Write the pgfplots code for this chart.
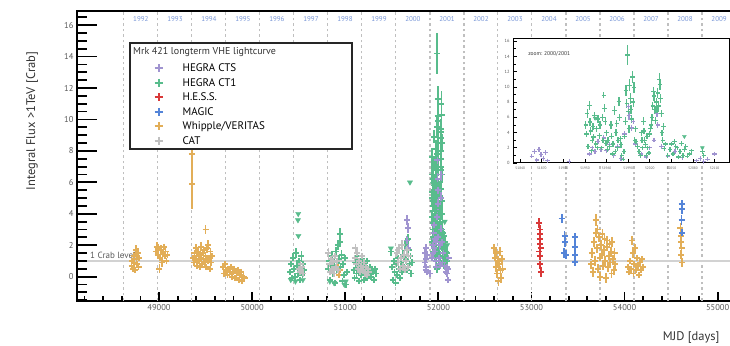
\documentclass[border=0pt]{standalone}
\usepackage{fontspec}
\setmainfont{PT Sans}
\usepackage{pgfplots}
\usepackage{pgfplotstable}
\pgfplotsset{compat=1.18}

\definecolor{cts}{RGB}{160,148,208}
\definecolor{ct1}{RGB}{88,188,140}
\definecolor{hess}{RGB}{217,56,56}
\definecolor{magic}{RGB}{84,132,216}
\definecolor{whip}{RGB}{226,174,88}
\definecolor{cat}{RGB}{192,192,192}
\definecolor{yearblue}{RGB}{120,150,215}
\definecolor{txtgray}{RGB}{90,90,90}

\pgfplotsset{
  pts/.style={only marks, mark=+, mark size=3pt, line width=1.8pt, color=#1, forget plot,
    error bars/.cd, y dir=both, y explicit, error mark=none, error bar style={line width=1.8pt, color=#1}},
  ipts/.style={only marks, mark=+, mark size=2.2pt, line width=1.3pt, color=#1, forget plot,
    error bars/.cd, y dir=both, y explicit, error mark=none, error bar style={line width=1.3pt, color=#1}},
  ul/.style={only marks, mark=triangle*, mark size=3pt, color=#1, forget plot, mark options={rotate=180, fill=#1, draw=#1}},
  iul/.style={only marks, mark=triangle*, mark size=2.2pt, color=#1, forget plot, mark options={rotate=180, fill=#1, draw=#1}},
  limg/.style={only marks, mark=+, mark size=4pt, line width=2pt, color=#1, mark options={color=#1, line width=2pt}},
}

% Whipple / VERITAS
\pgfplotstableread{
x y ey
48705 0.7 0.2
48712 1.0 0.2
48720 0.5 0.2
48728 1.3 0.25
48735 0.9 0.2
48742 0.4 0.2
48750 1.7 0.3
48758 1.1 0.2
48765 0.8 0.2
48772 1.5 0.3
48780 0.6 0.2
48788 1.2 0.2
48965 1.6 0.3
48975 1.9 0.3
48985 1.4 0.2
48995 1.8 0.3
49005 0.5 0.3
49012 1.2 0.2
49020 1.7 0.3
49030 0.9 0.3
49040 1.5 0.2
49050 1.9 0.2
49060 1.3 0.2
49070 1.6 0.2
49080 1.0 0.2
49090 1.4 0.2
49355 5.9 1.6
49350 7.8 0.6
49500 3.0 0.3
49365 1.2 0.2
49372 0.9 0.2
49380 1.5 0.2
49388 1.1 0.2
49395 1.8 0.3
49402 1.3 0.2
49410 0.7 0.2
49418 1.6 0.2
49425 1.0 0.2
49432 1.4 0.2
49440 0.6 0.2
49448 1.2 0.2
49455 1.9 0.3
49462 0.8 0.2
49470 1.5 0.2
49478 1.1 0.2
49485 1.7 0.2
49492 0.9 0.2
49500 1.3 0.2
49508 0.6 0.2
49515 1.8 0.3
49522 1.0 0.2
49530 2.0 0.3
49538 1.2 0.2
49545 0.5 0.2
49552 1.6 0.2
49560 0.9 0.2
49568 1.3 0.2
49690 0.6 0.2
49700 0.2 0.2
49712 0.8 0.2
49722 0.4 0.2
49735 0.1 0.2
49745 0.5 0.2
49758 0.3 0.2
49770 0.6 0.2
49782 0.0 0.2
49795 0.3 0.2
49808 0.5 0.2
49820 -0.1 0.2
49832 0.2 0.2
49845 0.4 0.2
49858 -0.2 0.2
49870 0.1 0.2
49882 0.3 0.2
49895 -0.3 0.2
49908 0.0 0.2
49918 -0.1 0.2
50925 0.6 0.2
50935 0.1 0.2
50945 0.4 0.2
52600 1.8 0.3
52608 1.2 0.3
52615 0.6 0.3
52622 1.5 0.3
52630 0.2 0.3
52638 1.0 0.3
52645 -0.3 0.3
52652 0.8 0.3
52660 1.6 0.3
52668 0.4 0.3
52675 -0.1 0.3
52682 1.1 0.3
52690 0.5 0.3
53640 0.8 0.3
53650 1.5 0.3
53660 0.3 0.3
53670 2.2 0.3
53680 1.0 0.3
53690 3.6 0.4
53695 2.8 0.3
53700 1.8 0.3
53710 3.0 0.3
53718 0.5 0.3
53725 2.5 0.3
53732 1.2 0.3
53740 0.0 0.3
53748 2.0 0.3
53755 1.4 0.3
53762 2.7 0.3
53770 0.7 0.3
53778 1.7 0.3
53785 2.4 0.3
53792 1.0 0.3
53800 -0.1 0.3
53808 1.9 0.3
53815 2.3 0.3
53822 0.6 0.3
53830 1.3 0.3
53838 2.1 0.3
53845 0.9 0.3
53852 1.6 0.3
53860 0.2 0.3
53868 2.2 0.3
53876 1.1 0.3
53884 0.4 0.3
53892 1.5 0.3
53900 0.8 0.3
54040 0.6 0.2
54050 0.3 0.2
54060 1.0 0.2
54070 0.5 0.2
54080 2.3 0.3
54088 1.5 0.3
54095 0.2 0.2
54105 0.8 0.2
54115 1.8 0.3
54125 0.4 0.2
54135 1.2 0.2
54145 0.7 0.2
54155 0.1 0.2
54165 0.9 0.2
54175 0.4 0.2
54185 1.1 0.2
54195 0.6 0.2
54600 3.1 0.3
54605 2.6 0.3
54610 2.2 0.3
54612 1.8 0.3
54608 1.4 0.3
54615 0.9 0.3
}\tWhip

% H.E.S.S.
\pgfplotstableread{
x y ey
53085 3.4 0.3
53090 3.0 0.3
53095 2.7 0.3
53088 2.4 0.3
53092 2.1 0.3
53098 1.8 0.3
53086 1.6 0.3
53094 1.3 0.3
53090 0.8 0.3
53100 0.3 0.3
}\tHess

% MAGIC
\pgfplotstableread{
x y ey
53325 3.7 0.3
53355 2.6 0.3
53360 2.2 0.3
53350 1.5 0.3
53370 1.4 0.3
53467 2.5 0.3
53467 1.9 0.3
53470 1.4 0.3
53465 0.95 0.3
54613 4.6 0.3
54616 4.3 0.3
54612 3.6 0.3
54615 2.8 0.3
}\tMagic

% HEGRA CT1
\pgfplotstableread{
x y ey
50410 0.3 0.2
50420 0.8 0.2
50430 -0.1 0.2
50440 1.2 0.3
50450 0.5 0.2
50460 0.0 0.2
50470 1.5 0.3
50480 0.7 0.2
50490 0.2 0.2
50500 1.0 0.2
50510 -0.2 0.2
50520 0.6 0.2
50530 1.3 0.3
50540 0.1 0.2
50550 0.8 0.2
50560 0.4 0.2
50820 0.5 0.2
50830 1.0 0.2
50840 -0.2 0.2
50850 0.7 0.2
50860 1.3 0.3
50870 0.2 0.2
50880 0.9 0.2
50890 -0.4 0.2
50900 1.6 0.3
50910 0.4 0.2
50920 2.0 0.3
50930 1.1 0.3
50940 2.7 0.4
50945 2.2 0.3
50950 0.6 0.2
50960 1.4 0.3
50970 -0.3 0.2
50980 0.8 0.2
50990 0.1 0.2
51000 1.2 0.2
51010 -0.5 0.2
51015 0.3 0.2
51090 0.4 0.2
51100 -0.1 0.2
51110 0.9 0.2
51120 0.2 0.2
51130 1.3 0.3
51140 0.6 0.2
51150 -0.3 0.2
51160 0.8 0.2
51170 0.1 0.2
51180 1.1 0.2
51190 0.5 0.2
51200 -0.2 0.2
51210 0.7 0.2
51220 0.3 0.2
51230 1.0 0.2
51240 -0.1 0.2
51250 0.5 0.2
51260 0.2 0.2
51270 0.6 0.2
51280 0.0 0.2
51290 0.4 0.2
51300 0.3 0.2
51310 -0.2 0.2
51320 0.5 0.2
51330 0.2 0.2
51490 1.6 0.3
51500 0.6 0.2
51510 -0.2 0.2
51520 1.0 0.2
51530 0.3 0.2
51540 -0.4 0.2
51550 0.8 0.2
51560 0.1 0.2
51570 1.2 0.2
51580 0.5 0.2
51590 -0.1 0.2
51600 0.9 0.2
51610 0.3 0.2
51620 1.4 0.3
51630 0.6 0.2
51640 2.0 0.3
51650 1.1 0.2
51660 0.4 0.2
51670 2.4 0.3
51680 1.7 0.3
51690 0.8 0.2
51700 1.3 0.2
51710 0.2 0.2
51720 0.9 0.2
51931 5.0 0.5
51932 3.8 0.4
51933 6.5 0.6
51934 2.2 0.3
51936 7.6 0.6
51937 5.4 0.5
51938 4.2 0.5
51939 1.6 0.3
51940 3.0 0.4
51941 4.8 0.5
51942 3.4 0.4
51943 6.2 0.5
51945 2.5 0.4
51946 4.5 0.4
51947 2.0 0.3
51948 5.8 0.5
51950 3.6 0.4
51951 5.0 0.5
51953 2.0 0.3
51954 6.0 0.5
51955 3.0 0.4
51956 8.9 0.4
51957 7.2 0.5
51958 5.5 0.5
51959 2.6 0.4
51960 4.0 0.4
51961 1.8 0.3
51962 3.0 0.4
51964 2.2 0.3
51966 5.0 0.5
51967 3.5 0.4
51968 1.2 0.3
51969 2.5 0.4
51971 6.9 0.6
51972 1.5 0.3
51973 4.0 0.5
51974 5.2 0.5
51975 2.0 0.4
51976 3.0 0.4
51977 8.1 0.6
51978 6.0 0.5
51979 3.2 0.4
51980 2.4 0.4
51981 1.0 0.3
51983 0.5 0.3
51984 1.5 0.3
51985 3.5 0.4
51986 5.5 0.5
51987 9.5 0.7
51988 7.8 0.6
51989 14.2 1.3
51990 6.8 0.6
51991 4.5 0.5
51992 10.2 0.8
51993 8.5 0.7
51994 7.0 0.6
51995 5.8 0.5
51996 11.3 0.8
51997 8.0 0.6
51998 9.9 0.7
51999 3.0 0.4
52000 4.5 0.4
52001 2.8 0.4
52003 2.2 0.3
52005 1.5 0.3
52007 1.0 0.3
52008 4.0 0.4
52009 3.0 0.4
52010 2.0 0.3
52011 5.5 0.5
52012 4.2 0.4
52013 3.0 0.4
52014 2.4 0.3
52015 1.0 0.3
52016 3.5 0.4
52017 2.0 0.3
52019 1.3 0.3
52020 3.8 0.4
52021 4.5 0.4
52022 5.0 0.5
52023 6.0 0.5
52024 7.5 0.5
52025 9.4 0.6
52026 8.8 0.6
52027 7.0 0.5
52028 5.6 0.5
52029 8.0 0.6
52030 6.8 0.5
52031 9.2 0.6
52032 7.5 0.6
52033 11.0 0.8
52034 10.3 0.7
52035 8.5 0.6
52036 6.5 0.5
52037 4.0 0.4
52038 3.0 0.4
52039 4.8 0.4
52040 1.9 0.3
52042 2.5 0.3
52045 1.0 0.3
52048 1.8 0.3
52050 2.5 0.3
52052 1.2 0.3
52054 2.8 0.3
52056 2.2 0.3
52058 2.0 0.3
52060 0.8 0.3
52062 1.5 0.3
52064 2.6 0.3
52066 1.0 0.3
52068 1.8 0.3
52070 2.2 0.3
52072 0.9 0.3
52075 1.2 0.3
52078 1.6 0.3
52093 1.5 0.3
52095 1.0 0.3
}\tCTone

% HEGRA CT1 upper limits
\pgfplotstableread{
x y
50495 4.0
50492 3.6
50497 2.6
50415 -0.2
50465 -0.3
50545 -0.2
50835 -0.3
50880 -0.4
50990 -0.5
51005 -0.3
51695 6.0
51490 1.8
51944 5.9
52068 3.5
52093 2.0
}\tCToneUL

% CAT
\pgfplotstableread{
x y ey
50500 0.5 0.2
50510 0.3 0.2
50520 0.8 0.2
50530 0.4 0.2
50540 0.6 0.2
50550 0.2 0.2
50820 1.5 0.3
50830 0.8 0.2
50840 0.3 0.2
50850 1.1 0.2
50860 0.5 0.2
50870 0.9 0.2
50880 0.2 0.2
50890 1.3 0.2
50900 0.6 0.2
50910 1.0 0.2
50920 0.4 0.2
51100 1.2 0.2
51110 1.8 0.3
51120 0.8 0.2
51130 1.5 0.3
51140 0.5 0.2
51150 1.0 0.2
51160 0.3 0.2
51170 0.7 0.2
51180 1.3 0.2
51190 0.4 0.2
51200 0.9 0.2
51210 0.2 0.2
51220 0.6 0.2
51230 0.1 0.2
51240 0.5 0.2
51250 0.3 0.2
51560 1.5 0.3
51570 0.9 0.2
51580 1.8 0.3
51590 0.5 0.2
51600 1.2 0.2
51610 2.0 0.3
51620 0.7 0.2
51630 1.4 0.2
51640 0.4 0.2
51650 1.0 0.2
51660 1.7 0.3
51670 0.6 0.2
51680 1.3 0.2
}\tCat

% HEGRA CTS
\pgfplotstableread{
x y ey
51665 3.6 0.3
51672 3.1 0.3
51660 2.3 0.3
51675 1.8 0.3
51856 0.9 0.2
51860 1.5 0.3
51863 0.4 0.2
51866 1.8 0.3
51869 1.1 0.2
51872 0.6 0.2
51875 1.4 0.2
51878 0.3 0.2
51908 0.2 0.2
51936 1.2 0.3
51940 2.0 0.3
51944 1.5 0.3
51948 2.8 0.3
51952 1.8 0.3
51956 3.3 0.4
51960 1.6 0.3
51964 2.4 0.3
51970 1.0 0.3
51975 2.2 0.3
51980 0.6 0.3
51985 3.8 0.4
51990 7.4 0.5
51991 6.2 0.5
51995 4.6 0.4
51997 5.5 0.4
52000 2.5 0.3
52008 1.2 0.3
52015 0.8 0.3
52020 2.0 0.3
52026 3.0 0.3
52030 6.5 0.5
52031 5.0 0.4
52036 2.2 0.3
52045 0.9 0.3
52055 1.5 0.3
52065 0.7 0.3
52085 0.3 0.2
52090 0.6 0.2
52095 0.2 0.2
52100 0.5 0.2
52110 1.2 0.2
52105 -0.2 0.2
}\tCts

\begin{document}
\begin{tikzpicture}
\useasboundingbox (0,0) rectangle (730pt,345pt);

% ---------------- main axis: data, x ticks, year grid, legend
\begin{axis}[
  at={(77pt,44pt)}, anchor=south west, scale only axis,
  width=655pt, height=290pt,
  xmin=48119, xmax=55154, ymin=-1.55, ymax=16.9,
  axis line style={line width=2.4pt, black},
  xtick={49000,50000,...,55000},
  minor xtick={48200,48400,...,55000},
  ytick=\empty,
  scaled x ticks=false,
  tick pos=left, tick align=inside,
  major tick length=9pt, minor tick length=5pt,
  tick style={black, line width=1.8pt},
  x tick label style={font=\fontsize{8.5}{10}\selectfont, text=txtgray},
  /pgf/number format/assume math mode=true,
  /pgf/number format/1000 sep={},
  extra x ticks={48622,48988,49353,49718,50083,50449,50814,51179,51544,51910,52275,52640,53005,53371,53736,54101,54466,54832},
  extra x tick labels={},
  extra x tick style={grid=major, major tick length=0pt},
  major grid style={gray!50, line width=1.1pt, dash pattern=on 2.5pt off 3pt},
  legend style={draw=none, fill=none, at={(0.1183,0.826)}, anchor=north west,
    font=\fontsize{11}{12}\selectfont, row sep=1.2pt, inner sep=0pt,
    /tikz/every odd column/.append style={column sep=18pt}},
  legend cell align=left,
]
\addplot[pts=whip] table[x=x, y=y, y error=ey]{\tWhip};
\addplot[pts=ct1] table[x=x, y=y, y error=ey]{\tCTone};
\addplot[ul=ct1] table[x=x, y=y]{\tCToneUL};
\addplot[pts=cts] table[x=x, y=y, y error=ey]{\tCts};
\addplot[pts=cat] table[x=x, y=y, y error=ey]{\tCat};
\addplot[pts=hess] table[x=x, y=y, y error=ey]{\tHess};
\addplot[pts=magic] table[x=x, y=y, y error=ey]{\tMagic};
\addplot[color=gray!35, line width=2pt, forget plot] coordinates {(48119,1) (55154,1)};
\node[anchor=west, font=\fontsize{9}{10}\selectfont, text=txtgray, inner sep=0pt] at (axis cs:48259,1.35) {1 Crab level};

\draw[draw=black!85, fill=white, line width=1.5pt] (axis description cs:0.0809,0.524) rectangle (axis description cs:0.4198,0.8897);
\node[anchor=west, font=\fontsize{10}{11}\selectfont, text=black!80, inner sep=0pt] at (axis description cs:0.0855,0.8586) {Mrk 421 longterm VHE lightcurve};

\addlegendimage{limg=cts}
\addlegendentry{HEGRA CTS}
\addlegendimage{limg=ct1}
\addlegendentry{HEGRA CT1}
\addlegendimage{limg=hess}
\addlegendentry{H.E.S.S.}
\addlegendimage{limg=magic}
\addlegendentry{MAGIC}
\addlegendimage{limg=whip}
\addlegendentry{Whipple/VERITAS}
\addlegendimage{limg=cat}
\addlegendentry{CAT}
\end{axis}

% ---------------- overlay axis: y ticks, labels, year names
\begin{axis}[
  at={(77pt,44pt)}, anchor=south west, scale only axis,
  width=655pt, height=290pt,
  xmin=48119, xmax=55154, ymin=-1.55, ymax=16.9,
  axis line style={draw=none},
  xtick=\empty,
  ytick={0,2,...,16},
  minor ytick={-1.5,-1,...,16.5},
  tick pos=left, tick align=inside,
  major tick length=20pt, minor tick length=10pt,
  tick style={black, line width=1.8pt},
  y tick label style={font=\fontsize{8.5}{10}\selectfont, text=txtgray},
  /pgf/number format/assume math mode=true,
  ylabel={Integral Flux >1TeV [Crab]},
  ylabel style={at={(axis description cs:-0.0687,0.62)}, anchor=center, font=\fontsize{12.5}{14}\selectfont, text=black!80},
  xlabel={MJD [days]},
  xlabel style={at={(axis description cs:0.9863,-0.1276)}, anchor=east, font=\fontsize{12.5}{14}\selectfont, text=black!80},
]
\addplot[draw=none, forget plot] coordinates {(48119,0)};
\begin{scope}[every node/.style={font=\fontsize{7}{8}\selectfont, text=yearblue, inner sep=0pt}]
\node at (axis cs:48805,16.38) {1992};
\node at (axis cs:49171,16.38) {1993};
\node at (axis cs:49536,16.38) {1994};
\node at (axis cs:49901,16.38) {1995};
\node at (axis cs:50266,16.38) {1996};
\node at (axis cs:50632,16.38) {1997};
\node at (axis cs:50997,16.38) {1998};
\node at (axis cs:51362,16.38) {1999};
\node at (axis cs:51727,16.38) {2000};
\node at (axis cs:52093,16.38) {2001};
\node at (axis cs:52458,16.38) {2002};
\node at (axis cs:52823,16.38) {2003};
\node at (axis cs:53188,16.38) {2004};
\node at (axis cs:53554,16.38) {2005};
\node at (axis cs:53919,16.38) {2006};
\node at (axis cs:54284,16.38) {2007};
\node at (axis cs:54649,16.38) {2008};
\node at (axis cs:55015,16.38) {2009};
\end{scope}
\end{axis}

% ---------------- inset: zoom 2000/2001
\begin{axis}[
  at={(513pt,182pt)}, anchor=south west, scale only axis,
  width=216pt, height=124pt,
  xmin=51830, xmax=52130, ymin=0, ymax=16.3,
  axis background/.style={fill=white},
  axis line style={line width=1pt, black},
  tick pos=left, tick align=inside,
  xtick={51840,51870,...,52120}, minor x tick num=2,
  ytick={0,2,...,16}, minor y tick num=1,
  scaled x ticks=false,
  major tick length=4pt, minor tick length=2.5pt,
  tick style={black, line width=0.8pt},
  y tick label style={font=\fontsize{4.5}{5}\selectfont, text=txtgray},
  x tick label style={font=\fontsize{3.5}{4}\selectfont, text=txtgray},
  /pgf/number format/assume math mode=true,
  /pgf/number format/1000 sep={},
]
\addplot[ipts=cts] table[x=x, y=y, y error=ey]{\tCts};
\addplot[ipts=ct1] table[x=x, y=y, y error=ey]{\tCTone};
\addplot[iul=ct1] table[x=x, y=y]{\tCToneUL};
\node[anchor=west, font=\fontsize{5.5}{6}\selectfont, text=black!80, inner sep=0pt] at (axis description cs:0.07,0.88) {zoom: 2000/2001};
\end{axis}
\end{tikzpicture}
\end{document}
